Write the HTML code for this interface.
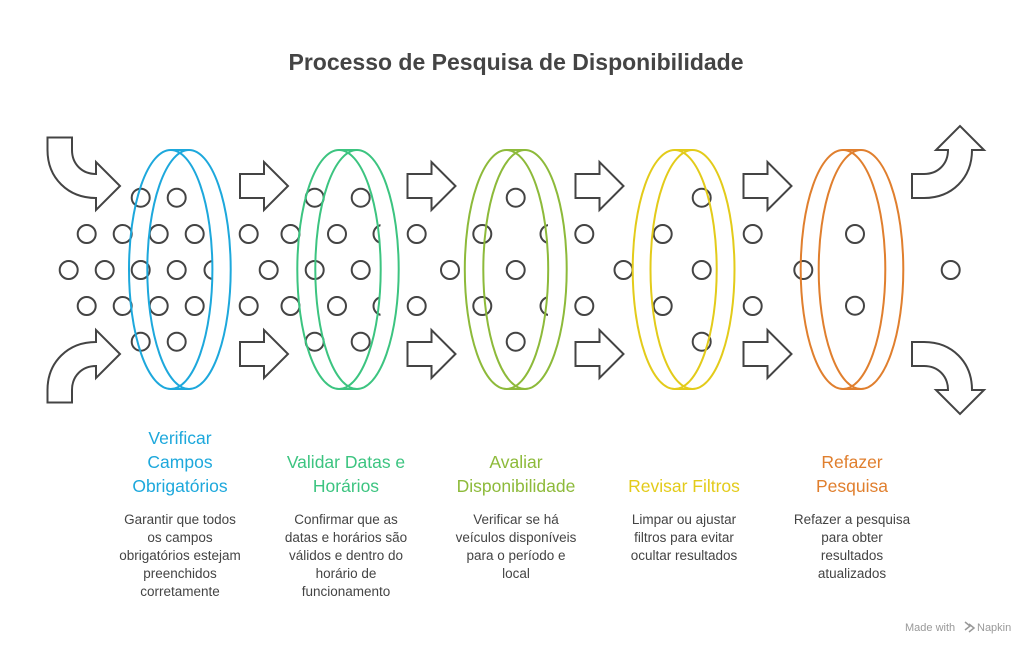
<!DOCTYPE html>
<html><head><meta charset="utf-8"><style>
html,body{margin:0;padding:0;background:#fff;}
svg{display:block;font-family:"Liberation Sans",sans-serif;}
</style></head><body>
<svg width="1032" height="648" viewBox="0 0 1032 648" xmlns="http://www.w3.org/2000/svg">
<defs>
<clipPath id="cb"><rect x="0" y="0" width="212.5" height="648"/></clipPath>
<clipPath id="cg"><rect x="0" y="0" width="380.5" height="648"/></clipPath>
<clipPath id="co"><rect x="0" y="0" width="548" height="648"/></clipPath>
</defs>
<text x="516" y="70" text-anchor="middle" font-size="23" font-weight="bold" fill="#444">Processo de Pesquisa de Disponibilidade</text>

<g fill="none" stroke="#444" stroke-width="2">
<path d="M47.5,137.5 L72,137.5 L72,150 C72,164 82,174 96,174 L96,162 L120,186 L96,210 L96,198 C68,198 47.5,178 47.5,150 Z"/>
<path d="M47.5,402.5 L72,402.5 L72,390 C72,376 82,366 96,366 L96,378 L120,354 L96,330 L96,342 C68,342 47.5,362 47.5,390 Z"/>
<path d="M912,174 L924,174 C938,174 948,164 948,150 L936,150 L960,126 L984,150 L972,150 C972,178 952,198 924,198 L912,198 Z"/>
<path d="M912,366 L924,366 C938,366 948,376 948,390 L936,390 L960,414 L984,390 L972,390 C972,362 952,342 924,342 L912,342 Z"/>
<g id="ar"><path d="M240,174 L264,174 L264,162 L288,186 L264,210 L264,198 L240,198 Z"/><path d="M240,342 L264,342 L264,330 L288,354 L264,378 L264,366 L240,366 Z"/></g>
<use href="#ar" x="167.5"/><use href="#ar" x="335.5"/><use href="#ar" x="503.5"/>

<g>
<circle cx="140.7" cy="197.7" r="9"/><circle cx="176.7" cy="197.7" r="9"/>
<circle cx="86.7" cy="234" r="9"/><circle cx="122.7" cy="234" r="9"/><circle cx="158.7" cy="234" r="9"/><circle cx="194.7" cy="234" r="9"/><circle cx="248.7" cy="234" r="9"/><circle cx="290.5" cy="234" r="9"/>
<circle cx="68.7" cy="270" r="9"/><circle cx="104.7" cy="270" r="9"/><circle cx="140.7" cy="270" r="9"/><circle cx="176.7" cy="270" r="9"/><circle cx="268.7" cy="270" r="9"/>
<circle cx="86.7" cy="306" r="9"/><circle cx="122.7" cy="306" r="9"/><circle cx="158.7" cy="306" r="9"/><circle cx="194.7" cy="306" r="9"/><circle cx="248.7" cy="306" r="9"/><circle cx="290.5" cy="306" r="9"/>
<circle cx="140.7" cy="341.7" r="9"/><circle cx="176.7" cy="341.7" r="9"/>
<circle cx="213.5" cy="270" r="9" clip-path="url(#cb)"/>

<circle cx="314.7" cy="197.7" r="9"/><circle cx="360.7" cy="197.7" r="9"/>
<circle cx="337" cy="234" r="9"/><circle cx="416.7" cy="234" r="9"/>
<circle cx="314.7" cy="270" r="9"/><circle cx="360.7" cy="270" r="9"/><circle cx="450" cy="270" r="9"/>
<circle cx="337" cy="306" r="9"/><circle cx="416.7" cy="306" r="9"/>
<circle cx="314.7" cy="341.7" r="9"/><circle cx="360.7" cy="341.7" r="9"/>
<circle cx="382.5" cy="234" r="9" clip-path="url(#cg)"/><circle cx="382.5" cy="306" r="9" clip-path="url(#cg)"/>

<circle cx="515.7" cy="197.7" r="9"/>
<circle cx="482.3" cy="234" r="9"/><circle cx="584.3" cy="234" r="9"/>
<circle cx="515.7" cy="270" r="9"/><circle cx="623.5" cy="270" r="9"/>
<circle cx="482.3" cy="306" r="9"/><circle cx="584.3" cy="306" r="9"/>
<circle cx="515.7" cy="341.7" r="9"/>
<circle cx="549.5" cy="234" r="9" clip-path="url(#co)"/><circle cx="549.5" cy="306" r="9" clip-path="url(#co)"/>

<circle cx="701.7" cy="197.7" r="9"/>
<circle cx="662.7" cy="234" r="9"/><circle cx="752.7" cy="234" r="9"/>
<circle cx="701.7" cy="270" r="9"/><circle cx="803.3" cy="270" r="9"/>
<circle cx="662.7" cy="306" r="9"/><circle cx="752.7" cy="306" r="9"/>
<circle cx="701.7" cy="341.7" r="9"/>

<circle cx="855" cy="234" r="9"/><circle cx="855" cy="305.7" r="9"/><circle cx="950.7" cy="270" r="9"/>
</g>
</g>

<g fill="none" stroke-width="2">
<g stroke="#1DA8DC"><ellipse cx="170.7" cy="269.5" rx="41.7" ry="119.5"/><ellipse cx="189" cy="269.5" rx="41.7" ry="119.5"/><line x1="170.7" y1="150" x2="189" y2="150"/><line x1="170.7" y1="389" x2="189" y2="389"/></g>
<g stroke="#3CC480"><ellipse cx="339" cy="269.5" rx="41.7" ry="119.5"/><ellipse cx="357" cy="269.5" rx="41.7" ry="119.5"/><line x1="339" y1="150" x2="357" y2="150"/><line x1="339" y1="389" x2="357" y2="389"/></g>
<g stroke="#8DBA3A"><ellipse cx="506.5" cy="269.5" rx="41.7" ry="119.5"/><ellipse cx="525" cy="269.5" rx="41.7" ry="119.5"/><line x1="506.5" y1="150" x2="525" y2="150"/><line x1="506.5" y1="389" x2="525" y2="389"/></g>
<g stroke="#E3CB1A"><ellipse cx="674.7" cy="269.5" rx="42" ry="119.5"/><ellipse cx="692.5" cy="269.5" rx="42" ry="119.5"/><line x1="674.7" y1="150" x2="692.5" y2="150"/><line x1="674.7" y1="389" x2="692.5" y2="389"/></g>
<g stroke="#E07F2E"><ellipse cx="843" cy="269.5" rx="42.3" ry="119.5"/><ellipse cx="861" cy="269.5" rx="42.3" ry="119.5"/><line x1="843" y1="150" x2="861" y2="150"/><line x1="843" y1="389" x2="861" y2="389"/></g>
</g>

<g font-size="17.5" text-anchor="middle">
<g fill="#1DA8DC"><text x="180" y="444">Verificar</text><text x="180" y="468">Campos</text><text x="180" y="492">Obrigatórios</text></g>
<g fill="#3CC480"><text x="346" y="468">Validar Datas e</text><text x="346" y="492">Horários</text></g>
<g fill="#8DBA3A"><text x="516" y="468">Avaliar</text><text x="516" y="492">Disponibilidade</text></g>
<g fill="#E3CB1A"><text x="684" y="492">Revisar Filtros</text></g>
<g fill="#E07F2E"><text x="852" y="468">Refazer</text><text x="852" y="492">Pesquisa</text></g>
</g>
<g font-size="13.5" text-anchor="middle" fill="#444">
<text x="180" y="524">Garantir que todos</text><text x="180" y="542">os campos</text><text x="180" y="560">obrigatórios estejam</text><text x="180" y="578">preenchidos</text><text x="180" y="596">corretamente</text>
<text x="346" y="524">Confirmar que as</text><text x="346" y="542">datas e horários são</text><text x="346" y="560">válidos e dentro do</text><text x="346" y="578">horário de</text><text x="346" y="596">funcionamento</text>
<text x="516" y="524">Verificar se há</text><text x="516" y="542">veículos disponíveis</text><text x="516" y="560">para o período e</text><text x="516" y="578">local</text>
<text x="684" y="524">Limpar ou ajustar</text><text x="684" y="542">filtros para evitar</text><text x="684" y="560">ocultar resultados</text>
<text x="852" y="524">Refazer a pesquisa</text><text x="852" y="542">para obter</text><text x="852" y="560">resultados</text><text x="852" y="578">atualizados</text>
</g>
<text x="905" y="631" font-size="11" fill="#999">Made with</text>
<path d="M965,622 l5,4 l-5,4 M969,624 l5,4 l-5,4" stroke="#999" stroke-width="1.5" fill="none"/>
<text x="977" y="631" font-size="11" fill="#999">Napkin</text>
</svg>
</body></html>
